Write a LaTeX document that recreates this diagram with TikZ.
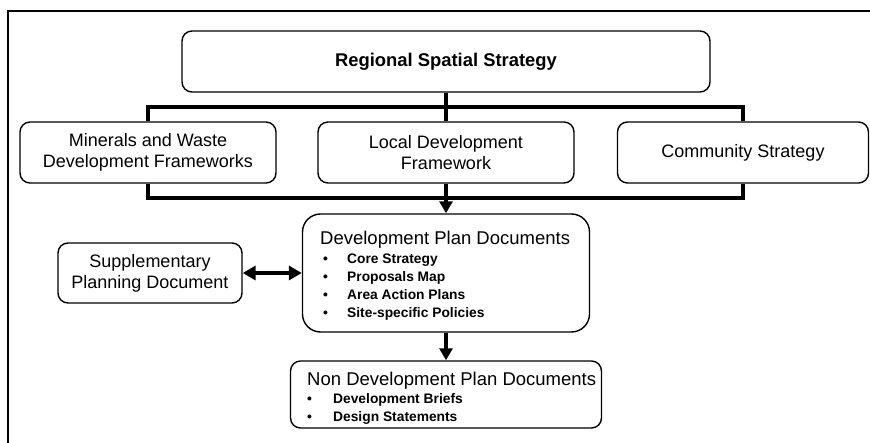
\documentclass[tikz,border=0pt]{standalone}
\usepackage{fontspec}
\setmainfont{Liberation Sans}
\usetikzlibrary{arrows.meta}
\begin{document}
\begin{tikzpicture}[x=1pt,y=-1pt,
  box/.style={draw, line width=1.4pt, rounded corners=10pt, inner sep=0pt, align=center, font=\fontsize{18}{21}\selectfont},
  bus/.style={line width=4pt},
  arr/.style={line width=4pt, -{Triangle[length=12pt,width=13pt]}},
  darr/.style={line width=4pt, {Triangle[length=13pt,width=14pt]}-{Triangle[length=13pt,width=14pt]}},
  ttl/.style={anchor=base west, inner sep=0pt, font=\fontsize{18.5}{21}\selectfont},
  itm/.style={anchor=base west, inner sep=0pt, font=\fontsize{13.8}{18}\selectfont\bfseries},
]
\clip (0,0) rectangle (870,443);
\draw[line width=1.2pt] (8,460) -- (8,11) -- (880,11);

% boxes
\node[box, minimum width=528pt, minimum height=61pt, font=\fontsize{18.4}{21}\selectfont\bfseries] (rss) at (446,61.5) {Regional Spatial Strategy};
\node[box, minimum width=256pt, minimum height=61pt] (mw) at (148,152.5) {Minerals and Waste\\Development Frameworks};
\node[box, minimum width=256pt, minimum height=61pt] (ldf) at (446,152.5) {Local Development\\Framework};
\node[box, minimum width=251pt, minimum height=61pt] (cs) at (743,152.5) {Community Strategy};
\node[box, minimum width=287pt, minimum height=118pt, rounded corners=18pt] (dpd) at (446,273) {};
\node[box, minimum width=184pt, minimum height=60pt] (spd) at (150,273) {Supplementary\\Planning Document};
\node[box, minimum width=311pt, minimum height=67pt] (ndpd) at (446,394.5) {};

% texts in DPD
\node[ttl] (dt) at (320,244.5) {Development Plan Documents};
\node[itm] (d1) at (323,263.3) {\makebox[24pt][l]{\textbullet}Core Strategy};
\node[itm] (d2) at (323,281.3) {\makebox[24pt][l]{\textbullet}Proposals Map};
\node[itm] (d3) at (323,299.3) {\makebox[24pt][l]{\textbullet}Area Action Plans};
\node[itm] (d4) at (323,317.3) {\makebox[24pt][l]{\textbullet}Site-specific Policies};

% texts in NDPD
\node[ttl] (nt) at (307,385.5) {Non Development Plan Documents};
\node[itm] (n1) at (307,403.3) {\makebox[26pt][l]{\textbullet}Development Briefs};
\node[itm] (n2) at (307,421.3) {\makebox[26pt][l]{\textbullet}Design Statements};

% bus coordinates
\coordinate (bt) at (446,107);
\coordinate (bb) at (446,198);

% top bus
\draw[bus] (rss.south) -- (ldf.north);
\draw[bus] (mw.north) -- (mw.north |- bt) -- (cs.north |- bt) -- (cs.north);
% bottom bus
\draw[bus] (mw.south) -- (mw.south |- bb) -- (cs.south |- bb) -- (cs.south);
\draw[bus] (ldf.south) -- (bb);
\draw[arr] (bb) -- (dpd.north);
% double arrow
\draw[darr] (spd.east) -- (dpd.west);
% down arrow
\draw[arr] (dpd.south) -- (ndpd.north);
\end{tikzpicture}
\end{document}
